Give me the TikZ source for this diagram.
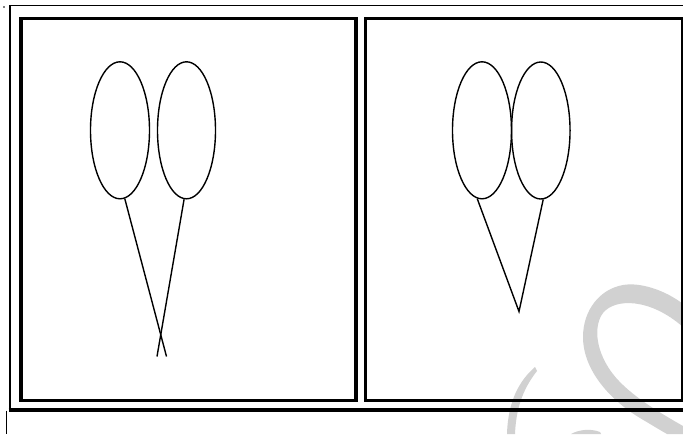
\documentclass[tikz,border=0pt]{standalone}
\usetikzlibrary{shapes.geometric}
\begin{document}
\begin{tikzpicture}[x=1pt,y=-1pt,
  thinframe/.style={line width=1.6pt},
  thickframe/.style={line width=3.8pt},
  panel/.style={draw,line width=3.6pt},
  balloon/.style={draw,ellipse,line width=1.4pt,inner sep=0pt},
  stringline/.style={line width=1.4pt},
  watermark/.style={fill=black!18,draw=none}]
\useasboundingbox (0,0) rectangle (683,434);
% watermark
\fill[watermark] (683,304) .. controls (665,290) and (640,282) .. (623,285)
  .. controls (600,289) and (583,310) .. (583,337)
  .. controls (583,370) and (610,400) .. (640,418)
  .. controls (650,424) and (660,430) .. (667,434) -- (683,434) -- (683,426)
  .. controls (655,410) and (625,392) .. (610,370)
  .. controls (595,348) and (594,325) .. (603,313)
  .. controls (615,298) and (650,298) .. (683,327) -- cycle;
\fill[watermark] (535,367) .. controls (520,380) and (508,400) .. (507,434)
  -- (515,434) .. controls (516,410) and (522,390) .. (537,371) -- cycle;
\fill[watermark] (571,434) .. controls (578,430) and (590,428) .. (600,432) -- (601,434) -- cycle;
% outer frame
\coordinate (otl) at (9.5,5.5);
\coordinate (otr) at (683,5.5);
\coordinate (obl) at (10,410);
\coordinate (obr) at (683,410);
\draw[thinframe] (otl) -- (otr);
\draw[thinframe] (10,5) -- (obl);
\draw[thickframe] (8.5,410) -- (obr);
\draw[line width=1.5pt] (6.7,410.5) -- (6.7,434);
\fill (4,7) circle (0.8);
% panels
\node[panel,minimum width=334.5pt,minimum height=381.7pt,inner sep=0pt,anchor=north west] (lp) at (19.4,16.8) {};
\node[panel,minimum width=317.5pt,minimum height=381.7pt,inner sep=0pt,anchor=north west] (rp) at (363.7,16.8) {};
% left balloons
\node[balloon,minimum width=59pt,minimum height=137pt] (la) at (120,130.3) {};
\node[balloon,minimum width=58pt,minimum height=137pt] (lb) at (186.5,130.3) {};
\coordinate (lae) at (166.5,356.5);
\coordinate (lbe) at (157,356.5);
\draw[stringline] (la.-86.4) -- (lae);
\draw[stringline] (lb.-92) -- (lbe);
% right balloons
\node[balloon,minimum width=59pt,minimum height=137pt] (ra) at (482,130.3) {};
\node[balloon,minimum width=58.5pt,minimum height=137pt] (rb) at (540.8,130.5) {};
\coordinate (rv) at (519,311.5);
\draw[stringline] (ra.-94) -- (rv) -- (rb.-88.4);
\end{tikzpicture}
\end{document}
